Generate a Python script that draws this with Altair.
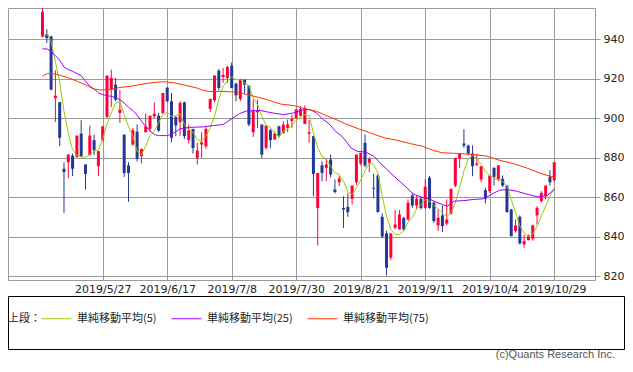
import altair as alt
import pandas as pd

# ---- candle data, one value per trading day ----
opens = [941.3, 942.5, 941.3, 910.0, 908.0, 874.3, 877.6, 881.0, 880.2, 892.1,
         876.5, 881.2, 888.8, 875.6, 888.8, 900.6, 914.4, 916.9, 902.6, 891.6,
         876.0, 886.6, 893.1, 880.7, 892.8, 894.5, 900.9, 901.2, 902.6, 915.4,
         908.5, 900.4, 897.9, 908.0, 888.8, 894.5, 879.8, 886.6, 885.7, 904.6,
         909.0, 924.0, 920.8, 920.3, 926.5, 917.4, 909.7, 919.4, 916.4, 892.8,
         902.9, 896.7, 884.9, 893.8, 889.1, 895.8, 892.5, 895.0, 898.5, 900.0,
         901.2, 897.0, 892.0, 890.8, 854.5, 876.1, 874.8, 879.0, 863.8, 867.5,
         854.5, 855.0, 859.1, 867.5, 877.0, 887.4, 877.3, 864.7, 870.9, 850.0,
         841.6, 829.3, 844.4, 843.6, 849.5, 848.6, 860.8, 855.7, 859.1, 854.5,
         869.7, 857.1, 845.6, 850.7, 846.6, 851.7, 865.8, 879.3, 887.1, 886.1,
         882.0, 876.3, 868.9, 863.5, 863.0, 874.8, 868.9, 869.2, 865.8, 853.7,
         842.8, 850.0, 836.0, 838.2, 838.9, 850.7, 858.0, 860.4, 870.2, 868.5]
highs = [956.9, 945.0, 941.7, 924.2, 908.0, 877.6, 881.5, 882.0, 891.1, 898.9,
         876.5, 896.2, 891.6, 883.2, 895.8, 921.5, 924.5, 920.3, 914.4, 891.6,
         877.6, 895.0, 896.7, 884.4, 902.2, 901.2, 908.0, 902.6, 912.7, 915.4,
         912.7, 901.0, 908.5, 908.3, 896.7, 894.5, 887.4, 892.8, 895.3, 909.7,
         921.5, 924.8, 925.3, 926.5, 928.2, 918.0, 919.8, 919.4, 916.4, 909.3,
         909.3, 896.7, 896.2, 894.5, 893.3, 896.0, 898.4, 899.2, 901.7, 904.6,
         906.0, 906.3, 899.0, 890.8, 872.2, 878.1, 879.3, 881.5, 868.9, 870.6,
         860.4, 861.8, 865.8, 881.5, 882.4, 891.6, 880.2, 871.9, 871.5, 851.7,
         843.0, 841.6, 853.4, 853.4, 850.0, 858.8, 862.1, 860.8, 860.4, 868.9,
         870.6, 858.0, 853.7, 855.7, 858.8, 864.2, 879.8, 882.3, 894.3, 886.5,
         886.1, 882.0, 875.6, 864.7, 870.9, 875.0, 876.1, 870.9, 866.0, 854.0,
         848.6, 850.7, 841.0, 841.0, 846.0, 855.4, 863.0, 865.8, 873.6, 877.6]
lows = [941.0, 938.0, 914.0, 897.9, 885.7, 852.0, 869.5, 870.6, 880.0, 880.0,
        863.8, 881.0, 881.2, 870.6, 888.0, 900.0, 905.6, 908.5, 897.5, 870.2,
        857.6, 886.0, 878.0, 877.0, 892.8, 893.0, 900.0, 893.0, 902.0, 908.0,
        887.7, 890.8, 891.0, 889.4, 887.1, 882.0, 876.5, 879.8, 884.4, 903.0,
        908.0, 914.0, 917.8, 917.8, 915.0, 908.5, 908.5, 912.4, 895.8, 890.4,
        895.0, 879.8, 884.0, 884.9, 888.8, 890.0, 892.0, 892.8, 895.0, 899.5,
        900.6, 897.0, 887.4, 860.4, 835.5, 868.0, 868.0, 870.0, 861.8, 865.5,
        844.4, 850.0, 856.2, 866.0, 876.0, 875.0, 872.6, 859.4, 852.0, 839.2,
        820.3, 828.0, 843.6, 843.6, 842.8, 848.0, 854.5, 854.0, 853.7, 854.0,
        854.0, 847.0, 842.8, 842.2, 845.6, 851.0, 865.0, 874.8, 884.9, 881.0,
        870.6, 875.6, 867.5, 856.8, 862.0, 865.8, 868.0, 865.0, 852.0, 840.0,
        842.0, 836.0, 834.3, 838.0, 838.0, 846.1, 857.1, 858.8, 865.8, 867.5]
closes = [953.8, 940.5, 914.4, 911.3, 890.0, 872.6, 881.5, 874.3, 891.1, 880.7,
          871.7, 891.1, 883.7, 883.2, 895.8, 921.5, 920.3, 909.3, 904.3, 872.2,
          872.2, 893.8, 879.3, 884.4, 895.8, 901.2, 902.2, 893.6, 912.7, 908.5,
          890.0, 896.2, 907.6, 890.8, 893.8, 884.8, 883.5, 887.7, 894.5, 909.7,
          921.5, 915.2, 921.8, 925.8, 915.2, 911.5, 919.8, 916.9, 896.7, 903.9,
          903.8, 881.5, 896.2, 888.8, 892.1, 891.1, 896.7, 896.7, 899.5, 904.3,
          904.6, 905.1, 892.8, 871.7, 872.2, 872.2, 876.5, 871.4, 862.5, 869.4,
          853.7, 852.4, 865.8, 881.5, 882.4, 876.0, 879.3, 864.2, 852.4, 840.0,
          824.2, 841.6, 846.1, 851.2, 843.6, 857.1, 855.7, 859.1, 854.5, 865.2,
          854.5, 847.8, 849.5, 845.3, 848.6, 864.2, 879.8, 882.0, 886.1, 882.0,
          875.6, 877.0, 875.6, 859.1, 870.9, 870.2, 876.1, 865.8, 852.4, 840.2,
          845.6, 836.5, 837.7, 840.2, 845.6, 854.5, 862.1, 865.8, 867.5, 877.6]

# ---- moving averages ----
ma5 = [940.5, 942.7, 938.8, 928.7, 917.8, 903.4, 892.5, 884.0, 881.0, 880.3,
       880.2, 881.5, 883.2, 883.7, 889.1, 897.2, 902.6, 907.6, 908.5, 901.7,
       895.8, 890.8, 883.2, 881.5, 885.7, 891.1, 893.3, 897.5, 901.7, 902.9,
       900.9, 901.2, 902.2, 896.7, 894.2, 892.8, 889.1, 888.3, 890.8, 895.0,
       900.9, 909.3, 916.1, 918.6, 920.8, 919.4, 919.4, 917.8, 916.4, 910.2,
       906.8, 901.2, 896.2, 895.3, 892.5, 890.4, 893.3, 894.5, 896.2, 898.9,
       900.6, 901.7, 901.2, 892.5, 884.9, 880.7, 879.0, 875.6, 872.2, 871.4,
       868.0, 862.6, 861.3, 864.7, 868.5, 873.5, 877.3, 876.5, 872.2, 860.4,
       850.3, 843.6, 841.1, 841.1, 842.8, 847.3, 849.5, 854.0, 856.2, 858.8,
       857.9, 855.7, 854.0, 852.0, 850.0, 852.2, 857.1, 864.7, 873.1, 879.3,
       881.0, 879.3, 876.5, 873.1, 870.9, 869.7, 868.9, 868.0, 865.5, 858.8,
       852.0, 845.3, 841.9, 840.2, 841.1, 845.3, 850.3, 855.4, 860.4, 864.7]

ma25_day = [0, 1, 2, 3, 4, 5, 6, 7, 8, 9, 10, 11, 12, 13, 14, 15, 16, 17, 18, 19,
            20, 21, 22, 23, 24, 25, 26, 27, 29, 30.3, 32, 34.3, 37.4, 39.7, 42,
            44.3, 45.8, 47.5, 50.7, 53.4, 56.1, 58.4, 60.7, 62.2, 63.7, 65.1,
            66.6, 68.1, 69.6, 70.5, 71.7, 73.2, 75.2, 77.0, 78.5, 80.1, 82.4,
            84.7, 86.2, 88.5, 90, 91.5, 93, 94.2, 95.7, 98, 100.3, 102.6, 104.8,
            106.3, 107.9, 110.2, 112.9, 115.1, 117.4, 119]
ma25_val = [935.0, 935.0, 933.8, 931.6, 929.2, 925.8, 924.5, 923.7, 922.5, 921.5,
            918.6, 916.1, 914.7, 912.7, 911.9, 911.3, 911.0, 910.2, 909.3, 907.6,
            905.5, 903.9, 901.5, 898.4, 895.8, 893.5, 891.6, 891.1, 891.1, 892.1,
            894.5, 895.3, 895.5, 896.2, 896.7, 900.1, 902.2, 903.6, 903.8, 902.6,
            901.7, 902.6, 904.3, 904.3, 902.6, 899.5, 897.2, 893.3, 890.8, 888.5,
            884.9, 883.2, 882.7, 880.7, 877.3, 873.9, 869.2, 864.7, 861.6, 859.6,
            859.1, 857.4, 856.2, 855.4, 857.9, 858.2, 858.8, 859.1, 861.8, 863.5,
            863.8, 863.0, 861.3, 860.1, 860.8, 863.8]

ma75_day = [0, 1.2, 2, 3.5, 5.8, 8.1, 10.4, 11.9, 13.4, 15.7, 18, 20.3, 22.6, 25.2,
            28.3, 30.6, 33.6, 35.9, 37.4, 38.9, 41.6, 44.3, 46.2, 49.2, 52.3, 55.3,
            58.4, 61.4, 63.7, 66.4, 68.3, 70.5, 73.4, 76.1, 79.5, 82.4, 85.4, 88.4,
            90.7, 92.9, 95.3, 97.2, 100.3, 103.3, 106.3, 109.4, 112.5, 115.6,
            117.9, 119]
ma75_val = [921.3, 922.5, 922.5, 922.0, 920.5, 918.6, 916.4, 914.7, 914.2, 914.4,
            915.5, 916.0, 916.9, 917.8, 918.4, 917.8, 916.4, 915.2, 914.0, 913.4,
            913.5, 913.2, 912.6, 911.0, 909.3, 907.1, 906.3, 904.5, 903.4, 900.9,
            899.2, 897.0, 894.6, 892.6, 889.9, 888.8, 887.1, 885.7, 883.7, 882.4,
            882.2, 882.0, 881.5, 880.7, 878.6, 877.0, 874.8, 872.2, 870.6, 870.2]

series_names = ["単純移動平均(5)", "単純移動平均(25)", "単純移動平均(75)"]
series_colors = ["#99cc00", "#9900ff", "#ff3300"]

tick_days = [14, 29, 44, 59, 74, 89, 104, 119]
tick_labels = ["2019/5/27", "2019/6/17", "2019/7/8", "2019/7/30",
               "2019/8/21", "2019/9/11", "2019/10/4", "2019/10/29"]
price_ticks = [820, 840, 860, 880, 900, 920, 940]

legend_title = "上段："
credit = "(c)Quants Research Inc."

# ---- tables ----
n = len(opens)
candles = pd.DataFrame({"day": list(range(n)), "open": opens, "high": highs,
                        "low": lows, "close": closes})
candles["dir"] = ["up" if c >= o else "down" for o, c in zip(opens, closes)]

ma_df = pd.concat([
    pd.DataFrame({"day": list(range(len(ma5))), "value": ma5, "series": series_names[0]}),
    pd.DataFrame({"day": ma25_day, "value": ma25_val, "series": series_names[1]}),
    pd.DataFrame({"day": ma75_day, "value": ma75_val, "series": series_names[2]}),
], ignore_index=True)

one = pd.DataFrame({"k": [0]})

# ---- scales & axes ----
x_scale = alt.Scale(domain=[-6.857, 127.314], nice=False, zero=False)
y_scale = alt.Scale(domain=[818, 955.7], nice=False, zero=False)

label_expr = ("[" + ",".join("'%s'" % s for s in tick_labels) + "][indexof(["
              + ",".join(str(v) for v in tick_days) + "], datum.value)]")

grid_color = "#9a9a9a"
x_axis = alt.Axis(values=tick_days, labelExpr=label_expr, grid=True, gridColor=grid_color,
                  gridWidth=1, ticks=False, domain=False, title=None,
                  labelFont="DejaVu Sans", labelFontSize=11, labelColor="#222",
                  labelPadding=3, labelFlush=False, labelOverlap=False)
y_axis = alt.Axis(orient="right", values=price_ticks, grid=True, gridColor=grid_color,
                  gridWidth=1, ticks=True, tickSize=5, tickColor=grid_color,
                  domain=False, title=None, labelFont="DejaVu Sans", labelFontSize=11,
                  labelColor="#222", labelPadding=3)

X = alt.X("day:Q", scale=x_scale, axis=x_axis)
dir_color = alt.Color("dir:N", scale=alt.Scale(domain=["up", "down"],
                                               range=["#ff003c", "#233796"]), legend=None)

base = alt.Chart(candles).encode(x=X, color=dir_color)
wicks = base.mark_rule(strokeWidth=1, clip=True).encode(
    y=alt.Y("low:Q", scale=y_scale, axis=y_axis), y2="high:Q")
bodies = base.mark_bar(size=3, clip=True).encode(
    y=alt.Y("open:Q", scale=y_scale, axis=y_axis), y2="close:Q")

lines = alt.Chart(ma_df).mark_line(strokeWidth=1, clip=True).encode(
    x=X,
    y=alt.Y("value:Q", scale=y_scale, axis=y_axis),
    stroke=alt.Stroke("series:N",
                      scale=alt.Scale(domain=series_names, range=series_colors),
                      sort=series_names,
                      legend=alt.Legend(orient="none", legendX=0, legendY=295,
                                        direction="horizontal", title=legend_title,
                                        titleOrient="left", titleFont="Noto Sans CJK JP",
                                        titleFontSize=11, titleFontWeight="normal",
                                        titleColor="#222", titlePadding=0,
                                        titleAnchor="middle", titleBaseline="top",
                                        labelFont="Noto Sans CJK JP", labelFontSize=11,
                                        labelColor="#222", labelOffset=5,
                                        symbolType="stroke", symbolSize=900,
                                        symbolStrokeWidth=1, columnPadding=12,
                                        padding=0)),
)

frame = alt.Chart(one).mark_rect(fillOpacity=0, stroke="#000", strokeWidth=1).encode(
    x=alt.value(0.5), x2=alt.value(616.5), y=alt.value(288.5), y2=alt.value(341.5))

credit_text = alt.Chart(one).mark_text(text=credit, align="right", baseline="middle",
                                       font="Liberation Sans", fontSize=11,
                                       color="#555").encode(
    x=alt.value(607), y=alt.value(347))

chart = alt.layer(wicks, bodies, lines, frame, credit_text).properties(
    width=587, height=272,
    padding={"left": 0, "top": 0, "right": 30, "bottom": 80},
    autosize=alt.AutoSizeParams(type="none"),
    background="white",
).configure_view(stroke="#9a9a9a", strokeWidth=1)

chart.save("out.html", embed_options={"renderer": "svg", "actions": False})
